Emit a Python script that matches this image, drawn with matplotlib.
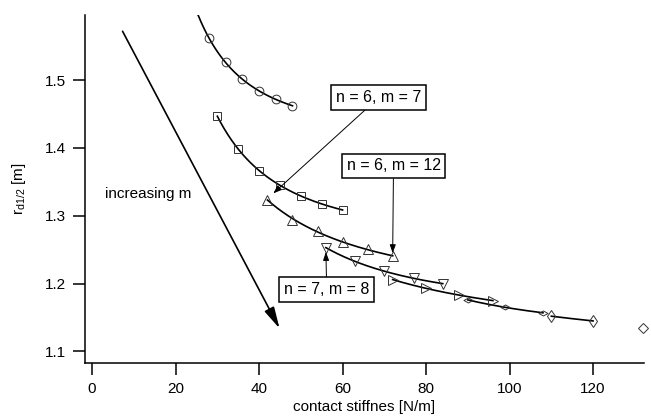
import numpy as np
import matplotlib
matplotlib.use("Agg")
import matplotlib.pyplot as plt
from matplotlib.path import Path

plt.rcParams['font.family'] = ['Liberation Sans', 'DejaVu Sans']
plt.rcParams['mathtext.default'] = 'regular'

# data
circ_x = [28, 32, 36, 40, 44, 48]
circ_y = [1.562, 1.526, 1.501, 1.484, 1.472, 1.462]

sq_x = [30, 35, 40, 45, 50, 55, 60]
sq_y = [1.447, 1.398, 1.366, 1.346, 1.329, 1.318, 1.308]

tri_x = [42, 48, 54, 60, 66, 72]          # n = 6, m = 12
tri_y = [1.324, 1.294, 1.277, 1.262, 1.251, 1.240]

tdn_x = [56, 63, 70, 77, 84]              # n = 7, m = 8
tdn_y = [1.253, 1.233, 1.218, 1.208, 1.200]

trr_x = [72, 80, 88, 96]
trr_y = [1.206, 1.193, 1.183, 1.175]

dw_x = [90, 99, 108]
dw_y = [1.176, 1.165, 1.157]

dt_x = [110, 120]
dt_y = [1.152, 1.145]

dl_x = [132]
dl_y = [1.134]

# x range each fitted curve is drawn over
fit_ranges = {
    'circ': (25.4, 48),
    'sq': (30, 60),
    'tri': (42, 72),
    'tdn': (56, 84),
    'trr': (72, 96),
    'dw': (90, 108),
    'dt': (110, 120),
}

wide_diamond = Path([(-1, 0), (0, 0.55), (1, 0), (0, -0.55), (-1, 0)],
                    [Path.MOVETO, Path.LINETO, Path.LINETO, Path.LINETO, Path.CLOSEPOLY])


def fit_curve(x, y, rng, deg=2):
    # fit y against 1/x, which follows the decaying shape of the curves
    u = 1.0 / np.asarray(x, dtype=float)
    deg = min(deg, len(x) - 1)
    p = np.polynomial.Polynomial.fit(u, y, deg)
    xs = np.linspace(rng[0], rng[1], 200)
    return xs, p(1.0 / xs)


fig = plt.figure(figsize=(6.51, 4.19), dpi=100)
ax = fig.add_axes([85 / 651, 1 - 363 / 419, (644 - 85) / 651, (363 - 15) / 419])

series = [
    ('circ', circ_x, circ_y, 'o', 6.3),
    ('sq', sq_x, sq_y, 's', 6),
    ('tri', tri_x, tri_y, '^', 7),
    ('tdn', tdn_x, tdn_y, 'v', 7),
    ('trr', trr_x, trr_y, '>', 7),
    ('dw', dw_x, dw_y, wide_diamond, 6.5),
    ('dt', dt_x, dt_y, 'd', 6),
]

for key, xs, ys, mk, ms in series:
    fx, fy = fit_curve(xs, ys, fit_ranges[key])
    ax.plot(fx, fy, color='black', lw=1.2, zorder=2)
    ax.plot(xs, ys, ls='none', marker=mk, ms=ms, mfc='none', mec='0.2',
            mew=0.7, zorder=3)

ax.plot(dl_x, dl_y, ls='none', marker='D', ms=5, mfc='none', mec='0.2',
        mew=0.7, clip_on=False, zorder=3)

# big "increasing m" arrow
ax.annotate('', xy=(44.9, 1.134), xytext=(7.3, 1.572),
            arrowprops=dict(arrowstyle='-|>,head_length=0.65,head_width=0.16',
                            mutation_scale=20, lw=1.2, color='black',
                            shrinkA=0, shrinkB=0))
ax.text(3.1, 1.332, 'increasing m', fontsize=11, ha='left', va='center')

box = dict(boxstyle='square,pad=0.3', fc='white', ec='black', lw=1.1)
leader = dict(arrowstyle='-|>,head_length=0.5,head_width=0.18', mutation_scale=10,
              lw=0.7, color='black', shrinkA=0, shrinkB=0)

ax.annotate('n = 6, m = 7', xy=(43.4, 1.333), xytext=(68.7, 1.4745),
            fontsize=11.5, ha='center', va='center', bbox=box, arrowprops=leader)
ax.annotate('n = 6, m = 12', xy=(72.0, 1.245), xytext=(72.2, 1.3735),
            fontsize=11.5, ha='center', va='center', bbox=box, arrowprops=leader)
ax.annotate('n = 7, m = 8', xy=(56.0, 1.2466), xytext=(56.2, 1.191),
            fontsize=11.5, ha='center', va='center', bbox=box, arrowprops=leader)

ax.set_xlim(-1.7, 132.2)
ax.set_ylim(1.083, 1.596)
ax.set_xticks([0, 20, 40, 60, 80, 100, 120])
ax.set_yticks([1.1, 1.2, 1.3, 1.4, 1.5])
ax.set_yticklabels(['1.1', '1.2', '1.3', '1.4', '1.5'])

for side in ['top', 'right']:
    ax.spines[side].set_visible(False)
for side in ['left', 'bottom']:
    ax.spines[side].set_linewidth(1.1)

ax.tick_params(direction='out', length=8.5, width=1.1, labelsize=11, pad=5)
ax.set_xlabel('contact stiffnes [N/m]', fontsize=11, labelpad=3)
ax.set_ylabel('r$_{d1/2}$ [m]', fontsize=11, labelpad=12)

fig.savefig('out.png', dpi=100)
